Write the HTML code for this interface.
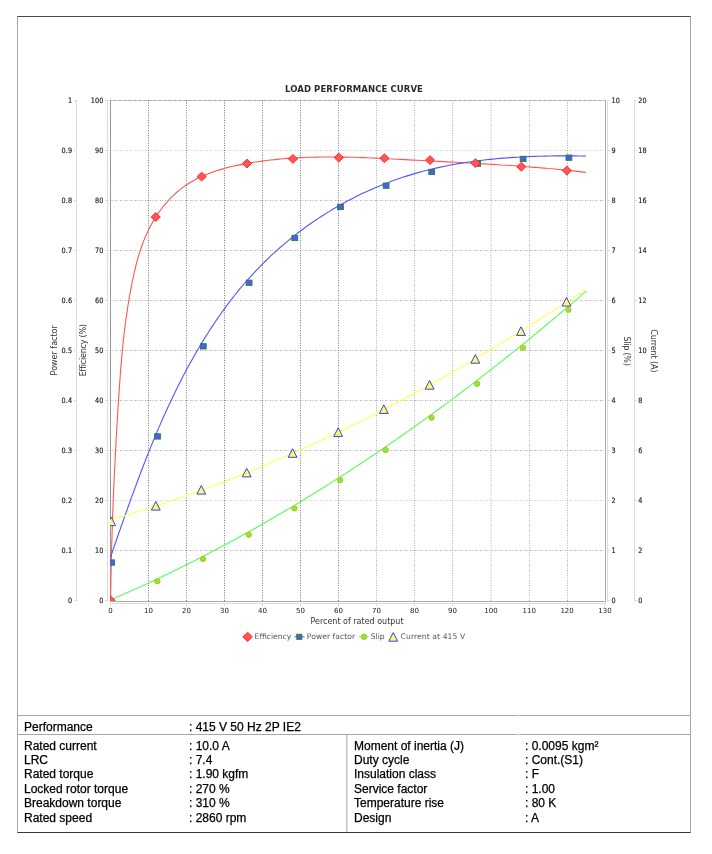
<!DOCTYPE html>
<html><head><meta charset="utf-8"><title>Load performance curve</title>
<style>
html,body{margin:0;padding:0;background:#fff;}
body{width:712px;height:854px;position:relative;overflow:hidden;}
.frame{position:absolute;left:17px;top:16px;width:672px;height:815px;border-top:1px solid #484848;border-bottom:1px solid #383838;border-left:1px solid #a8a8a8;border-right:1px solid #a8a8a8;}
.hl{position:absolute;left:18px;width:672px;height:1px;background:#a8a8a8;}
.vl{position:absolute;left:346px;top:735px;width:1px;height:97px;background:#c2c2c2;}
.t{position:absolute;font-family:"Liberation Sans",sans-serif;font-size:12px;line-height:14px;color:#000;white-space:nowrap;-webkit-text-stroke:0.25px #000;}
svg{position:absolute;left:0;top:0;}
.hg{stroke:#d4d4d4;stroke-width:1;stroke-dasharray:2 3;stroke-dashoffset:-1.5;}
.hg2{stroke:#aaaaaa;stroke-width:1;stroke-dasharray:1 4;}
.vg{stroke:#7e7e7e;stroke-width:1;stroke-dasharray:1.1 1.4;}
.vgl{stroke:#b0b0b0;stroke-width:1;stroke-dasharray:1.1 1.4;}
.tl text{font-family:"DejaVu Sans",sans-serif;font-size:7.4px;fill:#1a1a1a;stroke:#1a1a1a;stroke-width:0.15px;}
.xl text{font-family:"DejaVu Sans",sans-serif;font-size:7px;fill:#1a1a1a;}
.title{font-family:"DejaVu Sans",sans-serif;font-size:8.5px;font-weight:bold;fill:#2a2a2a;}
.al{font-family:"DejaVu Sans",sans-serif;font-size:8px;fill:#333;}
.lg{font-family:"DejaVu Sans",sans-serif;font-size:7.6px;fill:#555;}
</style></head><body>
<div class="frame"></div>
<div class="hl" style="top:715px"></div>
<div class="hl" style="top:734px"></div>
<div style="position:absolute;left:518px;top:715px;width:1px;height:1px;background:#fff"></div>
<div style="position:absolute;left:518px;top:734px;width:1px;height:1px;background:#fff"></div>
<div class="vl"></div><div class="vl" style="left:347px;background:#e2e2e2"></div>
<svg width="712" height="854" viewBox="0 0 712 854">
<defs><clipPath id="pc"><rect x="110" y="100" width="495.5" height="501"/></clipPath></defs>
<rect x="110.5" y="100.5" width="495" height="501" fill="none" stroke="#ababab" stroke-width="1"/>
<line x1="110" y1="100.5" x2="605" y2="100.5" class="hg"/>
<line x1="110" y1="100.5" x2="605" y2="100.5" class="hg2"/>
<line x1="110" y1="150.5" x2="605" y2="150.5" class="hg" style="opacity:.55"/>
<line x1="110" y1="150.5" x2="605" y2="150.5" class="hg2" style="opacity:.55"/>
<line x1="110" y1="200.5" x2="605" y2="200.5" class="hg"/>
<line x1="110" y1="200.5" x2="605" y2="200.5" class="hg2"/>
<line x1="110" y1="250.5" x2="605" y2="250.5" class="hg"/>
<line x1="110" y1="250.5" x2="605" y2="250.5" class="hg2"/>
<line x1="110" y1="300.5" x2="605" y2="300.5" class="hg"/>
<line x1="110" y1="300.5" x2="605" y2="300.5" class="hg2"/>
<line x1="110" y1="350.5" x2="605" y2="350.5" class="hg"/>
<line x1="110" y1="350.5" x2="605" y2="350.5" class="hg2"/>
<line x1="110" y1="400.5" x2="605" y2="400.5" class="hg"/>
<line x1="110" y1="400.5" x2="605" y2="400.5" class="hg2"/>
<line x1="110" y1="450.5" x2="605" y2="450.5" class="hg"/>
<line x1="110" y1="450.5" x2="605" y2="450.5" class="hg2"/>
<line x1="110" y1="500.5" x2="605" y2="500.5" class="hg" style="opacity:.55"/>
<line x1="110" y1="500.5" x2="605" y2="500.5" class="hg2" style="opacity:.55"/>
<line x1="110" y1="550.5" x2="605" y2="550.5" class="hg"/>
<line x1="110" y1="550.5" x2="605" y2="550.5" class="hg2"/>
<line x1="110.5" y1="100" x2="110.5" y2="601" class="vg"/>
<line x1="148.5" y1="100" x2="148.5" y2="601" class="vg"/>
<line x1="186.5" y1="100" x2="186.5" y2="601" class="vg"/>
<line x1="224.5" y1="100" x2="224.5" y2="601" class="vg"/>
<line x1="262.5" y1="100" x2="262.5" y2="601" class="vg"/>
<line x1="300.5" y1="100" x2="300.5" y2="601" class="vg"/>
<line x1="338.5" y1="100" x2="338.5" y2="601" class="vg"/>
<line x1="376.5" y1="100" x2="376.5" y2="601" class="vgl"/>
<line x1="414.5" y1="100" x2="414.5" y2="601" class="vgl"/>
<line x1="452.5" y1="100" x2="452.5" y2="601" class="vgl"/>
<line x1="491" y1="100" x2="491" y2="601" class="vgl"/>
<line x1="529.5" y1="100" x2="529.5" y2="601" class="vgl"/>
<line x1="567.5" y1="100" x2="567.5" y2="601" class="vgl"/>
<g stroke="#dcdcdc" stroke-width="1" fill="none">
<line x1="76.5" y1="100" x2="76.5" y2="601.5"/>
<line x1="107.5" y1="100" x2="107.5" y2="601.5"/>
<line x1="607.5" y1="100" x2="607.5" y2="601.5"/>
<line x1="634.5" y1="100" x2="634.5" y2="601.5"/>
<line x1="110" y1="603.5" x2="606" y2="603.5"/>
<line x1="74" y1="100.5" x2="76" y2="100.5"/>
<line x1="105" y1="100.5" x2="107" y2="100.5"/>
<line x1="608" y1="100.5" x2="610" y2="100.5"/>
<line x1="635" y1="100.5" x2="637" y2="100.5"/>
<line x1="74" y1="150.5" x2="76" y2="150.5"/>
<line x1="105" y1="150.5" x2="107" y2="150.5"/>
<line x1="608" y1="150.5" x2="610" y2="150.5"/>
<line x1="635" y1="150.5" x2="637" y2="150.5"/>
<line x1="74" y1="200.5" x2="76" y2="200.5"/>
<line x1="105" y1="200.5" x2="107" y2="200.5"/>
<line x1="608" y1="200.5" x2="610" y2="200.5"/>
<line x1="635" y1="200.5" x2="637" y2="200.5"/>
<line x1="74" y1="250.5" x2="76" y2="250.5"/>
<line x1="105" y1="250.5" x2="107" y2="250.5"/>
<line x1="608" y1="250.5" x2="610" y2="250.5"/>
<line x1="635" y1="250.5" x2="637" y2="250.5"/>
<line x1="74" y1="300.5" x2="76" y2="300.5"/>
<line x1="105" y1="300.5" x2="107" y2="300.5"/>
<line x1="608" y1="300.5" x2="610" y2="300.5"/>
<line x1="635" y1="300.5" x2="637" y2="300.5"/>
<line x1="74" y1="350.5" x2="76" y2="350.5"/>
<line x1="105" y1="350.5" x2="107" y2="350.5"/>
<line x1="608" y1="350.5" x2="610" y2="350.5"/>
<line x1="635" y1="350.5" x2="637" y2="350.5"/>
<line x1="74" y1="400.5" x2="76" y2="400.5"/>
<line x1="105" y1="400.5" x2="107" y2="400.5"/>
<line x1="608" y1="400.5" x2="610" y2="400.5"/>
<line x1="635" y1="400.5" x2="637" y2="400.5"/>
<line x1="74" y1="450.5" x2="76" y2="450.5"/>
<line x1="105" y1="450.5" x2="107" y2="450.5"/>
<line x1="608" y1="450.5" x2="610" y2="450.5"/>
<line x1="635" y1="450.5" x2="637" y2="450.5"/>
<line x1="74" y1="500.5" x2="76" y2="500.5"/>
<line x1="105" y1="500.5" x2="107" y2="500.5"/>
<line x1="608" y1="500.5" x2="610" y2="500.5"/>
<line x1="635" y1="500.5" x2="637" y2="500.5"/>
<line x1="74" y1="550.5" x2="76" y2="550.5"/>
<line x1="105" y1="550.5" x2="107" y2="550.5"/>
<line x1="608" y1="550.5" x2="610" y2="550.5"/>
<line x1="635" y1="550.5" x2="637" y2="550.5"/>
<line x1="74" y1="600.5" x2="76" y2="600.5"/>
<line x1="105" y1="600.5" x2="107" y2="600.5"/>
<line x1="608" y1="600.5" x2="610" y2="600.5"/>
<line x1="635" y1="600.5" x2="637" y2="600.5"/>
<line x1="110.5" y1="604" x2="110.5" y2="606"/>
<line x1="148.5" y1="604" x2="148.5" y2="606"/>
<line x1="186.5" y1="604" x2="186.5" y2="606"/>
<line x1="224.5" y1="604" x2="224.5" y2="606"/>
<line x1="262.5" y1="604" x2="262.5" y2="606"/>
<line x1="300.5" y1="604" x2="300.5" y2="606"/>
<line x1="338.5" y1="604" x2="338.5" y2="606"/>
<line x1="376.5" y1="604" x2="376.5" y2="606"/>
<line x1="414.5" y1="604" x2="414.5" y2="606"/>
<line x1="452.5" y1="604" x2="452.5" y2="606"/>
<line x1="491" y1="604" x2="491" y2="606"/>
<line x1="529.5" y1="604" x2="529.5" y2="606"/>
<line x1="567.5" y1="604" x2="567.5" y2="606"/>
<line x1="605.5" y1="604" x2="605.5" y2="606"/>
</g>
<g class="tl">
<text transform="translate(72.4,603.1) scale(0.88,1)" text-anchor="end" letter-spacing="0.25">0</text>
<text transform="translate(103.3,603.1) scale(0.88,1)" text-anchor="end">0</text>
<text transform="translate(611.6,603.1) scale(0.88,1)">0</text>
<text transform="translate(638.3,603.1) scale(0.88,1)">0</text>
<text transform="translate(72.4,553.1) scale(0.88,1)" text-anchor="end" letter-spacing="0.25">0.1</text>
<text transform="translate(103.3,553.1) scale(0.88,1)" text-anchor="end">10</text>
<text transform="translate(611.6,553.1) scale(0.88,1)">1</text>
<text transform="translate(638.3,553.1) scale(0.88,1)">2</text>
<text transform="translate(72.4,503.1) scale(0.88,1)" text-anchor="end" letter-spacing="0.25">0.2</text>
<text transform="translate(103.3,503.1) scale(0.88,1)" text-anchor="end">20</text>
<text transform="translate(611.6,503.1) scale(0.88,1)">2</text>
<text transform="translate(638.3,503.1) scale(0.88,1)">4</text>
<text transform="translate(72.4,453.1) scale(0.88,1)" text-anchor="end" letter-spacing="0.25">0.3</text>
<text transform="translate(103.3,453.1) scale(0.88,1)" text-anchor="end">30</text>
<text transform="translate(611.6,453.1) scale(0.88,1)">3</text>
<text transform="translate(638.3,453.1) scale(0.88,1)">6</text>
<text transform="translate(72.4,403.1) scale(0.88,1)" text-anchor="end" letter-spacing="0.25">0.4</text>
<text transform="translate(103.3,403.1) scale(0.88,1)" text-anchor="end">40</text>
<text transform="translate(611.6,403.1) scale(0.88,1)">4</text>
<text transform="translate(638.3,403.1) scale(0.88,1)">8</text>
<text transform="translate(72.4,353.1) scale(0.88,1)" text-anchor="end" letter-spacing="0.25">0.5</text>
<text transform="translate(103.3,353.1) scale(0.88,1)" text-anchor="end">50</text>
<text transform="translate(611.6,353.1) scale(0.88,1)">5</text>
<text transform="translate(638.3,353.1) scale(0.88,1)">10</text>
<text transform="translate(72.4,303.1) scale(0.88,1)" text-anchor="end" letter-spacing="0.25">0.6</text>
<text transform="translate(103.3,303.1) scale(0.88,1)" text-anchor="end">60</text>
<text transform="translate(611.6,303.1) scale(0.88,1)">6</text>
<text transform="translate(638.3,303.1) scale(0.88,1)">12</text>
<text transform="translate(72.4,253.1) scale(0.88,1)" text-anchor="end" letter-spacing="0.25">0.7</text>
<text transform="translate(103.3,253.1) scale(0.88,1)" text-anchor="end">70</text>
<text transform="translate(611.6,253.1) scale(0.88,1)">7</text>
<text transform="translate(638.3,253.1) scale(0.88,1)">14</text>
<text transform="translate(72.4,203.1) scale(0.88,1)" text-anchor="end" letter-spacing="0.25">0.8</text>
<text transform="translate(103.3,203.1) scale(0.88,1)" text-anchor="end">80</text>
<text transform="translate(611.6,203.1) scale(0.88,1)">8</text>
<text transform="translate(638.3,203.1) scale(0.88,1)">16</text>
<text transform="translate(72.4,153.1) scale(0.88,1)" text-anchor="end" letter-spacing="0.25">0.9</text>
<text transform="translate(103.3,153.1) scale(0.88,1)" text-anchor="end">90</text>
<text transform="translate(611.6,153.1) scale(0.88,1)">9</text>
<text transform="translate(638.3,153.1) scale(0.88,1)">18</text>
<text transform="translate(72.4,103.1) scale(0.88,1)" text-anchor="end" letter-spacing="0.25">1</text>
<text transform="translate(103.3,103.1) scale(0.88,1)" text-anchor="end">100</text>
<text transform="translate(611.6,103.1) scale(0.88,1)">10</text>
<text transform="translate(638.3,103.1) scale(0.88,1)">20</text>
</g><g class="xl">
<text x="110.5" y="613.2" text-anchor="middle">0</text>
<text x="148.5" y="613.2" text-anchor="middle">10</text>
<text x="186.5" y="613.2" text-anchor="middle">20</text>
<text x="224.5" y="613.2" text-anchor="middle">30</text>
<text x="262.5" y="613.2" text-anchor="middle">40</text>
<text x="300.5" y="613.2" text-anchor="middle">50</text>
<text x="338.5" y="613.2" text-anchor="middle">60</text>
<text x="376.5" y="613.2" text-anchor="middle">70</text>
<text x="414.5" y="613.2" text-anchor="middle">80</text>
<text x="452.5" y="613.2" text-anchor="middle">90</text>
<text x="491" y="613.2" text-anchor="middle">100</text>
<text x="529.2" y="613.2" text-anchor="middle">110</text>
<text x="567.1" y="613.2" text-anchor="middle">120</text>
<text x="605" y="613.2" text-anchor="middle">130</text>
</g>
<g fill="none" stroke-width="1.1" clip-path="url(#pc)">
<path d="M110.6,600.5 L110.7,596.3 L110.7,592.1 L110.8,587.9 L110.9,583.7 L110.9,579.5 L111.0,575.3 L111.1,571.1 L111.2,566.8 L111.3,562.6 L111.4,558.4 L111.5,554.2 L111.6,550.0 L111.7,545.8 L111.8,541.6 L112.0,537.4 L112.1,533.1 L112.2,528.9 L112.4,524.7 L112.5,520.5 L112.6,516.3 L112.8,512.1 L113.0,507.9 L113.1,503.6 L113.3,499.4 L113.5,495.2 L113.6,491.0 L113.8,486.8 L114.0,482.6 L114.2,478.3 L114.4,474.1 L114.6,469.9 L114.8,465.7 L115.0,461.5 L115.2,457.3 L115.4,453.1 L115.7,448.9 L115.9,444.7 L116.1,440.5 L116.3,436.2 L116.6,432.0 L116.8,427.8 L117.1,423.6 L117.3,419.4 L117.6,415.2 L117.8,411.0 L118.1,406.8 L118.4,402.6 L118.6,398.4 L118.9,394.2 L119.2,390.1 L119.5,385.9 L119.8,381.7 L120.1,377.5 L120.4,373.3 L120.7,369.1 L121.1,364.9 L121.4,360.8 L121.8,356.6 L122.2,352.4 L122.6,348.2 L123.0,344.0 L123.4,339.9 L123.9,335.7 L124.4,331.5 L124.9,327.3 L125.4,323.2 L126.0,319.0 L126.6,314.8 L127.2,310.6 L127.8,306.5 L128.5,302.3 L129.2,298.1 L129.9,294.0 L130.7,289.8 L131.5,285.6 L132.3,281.5 L133.2,277.3 L134.1,273.1 L135.1,269.0 L136.1,264.9 L137.2,260.7 L138.4,256.6 L139.6,252.6 L140.9,248.5 L142.3,244.5 L143.8,240.6 L145.4,236.7 L147.2,232.8 L149.0,229.0 L150.9,225.2 L153.0,221.6 L155.1,218.0 L157.4,214.4 L159.8,211.0 L162.3,207.7 L165.0,204.4 L167.7,201.3 L170.5,198.2 L173.5,195.3 L176.5,192.5 L179.7,189.9 L182.9,187.4 L186.3,185.0 L189.8,182.8 L193.3,180.7 L197.0,178.7 L200.7,176.9 L204.5,175.2 L208.4,173.7 L212.3,172.2 L216.3,170.8 L220.3,169.6 L224.4,168.4 L228.5,167.3 L232.7,166.3 L236.9,165.4 L241.0,164.6 L245.2,163.8 L249.4,163.0 L253.6,162.3 L257.9,161.7 L262.1,161.1 L266.3,160.5 L270.5,160.0 L274.7,159.6 L278.9,159.1 L283.1,158.8 L287.3,158.4 L291.5,158.1 L295.7,157.9 L299.9,157.6 L304.1,157.5 L308.3,157.3 L312.5,157.2 L316.7,157.1 L321.0,157.0 L325.2,157.0 L329.4,157.0 L333.6,157.0 L337.8,157.0 L342.0,157.1 L346.2,157.1 L350.4,157.2 L354.6,157.3 L358.8,157.5 L363.1,157.6 L367.3,157.8 L371.5,158.0 L375.7,158.1 L379.9,158.3 L384.1,158.5 L388.3,158.8 L392.5,159.0 L396.7,159.2 L400.9,159.4 L405.2,159.6 L409.4,159.9 L413.6,160.1 L417.8,160.3 L422.0,160.5 L426.2,160.8 L430.4,161.0 L434.6,161.2 L438.8,161.4 L443.0,161.6 L447.2,161.9 L451.4,162.1 L455.6,162.3 L459.8,162.5 L464.0,162.8 L468.2,163.0 L472.4,163.2 L476.6,163.4 L480.8,163.7 L485.0,163.9 L489.2,164.2 L493.4,164.4 L497.6,164.7 L501.8,165.0 L506.0,165.2 L510.2,165.5 L514.4,165.8 L518.6,166.1 L522.8,166.4 L527.0,166.7 L531.2,167.1 L535.4,167.4 L539.6,167.7 L543.8,168.1 L548.0,168.5 L552.2,168.8 L556.4,169.2 L560.6,169.6 L564.8,170.1 L569.0,170.5 L573.2,170.9 L577.4,171.4 L581.6,171.9 L585.8,172.4" stroke="#ff5555"/>
<path d="M110.4,557.5 L111.5,554.4 L112.6,551.3 L113.6,548.1 L114.7,545.0 L115.8,541.8 L116.9,538.7 L118.0,535.5 L119.1,532.3 L120.2,529.2 L121.3,526.0 L122.5,522.8 L123.6,519.6 L124.7,516.4 L125.8,513.2 L127.0,510.0 L128.1,506.8 L129.3,503.6 L130.4,500.3 L131.6,497.1 L132.8,493.9 L134.0,490.7 L135.2,487.4 L136.4,484.2 L137.6,481.0 L138.8,477.7 L140.0,474.5 L141.2,471.3 L142.5,468.0 L143.7,464.8 L145.0,461.6 L146.2,458.3 L147.5,455.1 L148.8,451.9 L150.1,448.6 L151.4,445.4 L152.7,442.2 L154.1,439.0 L155.4,435.8 L156.8,432.6 L158.1,429.4 L159.5,426.1 L160.9,422.9 L162.3,419.8 L163.7,416.6 L165.1,413.4 L166.6,410.2 L168.0,407.0 L169.5,403.9 L171.0,400.7 L172.5,397.6 L174.0,394.4 L175.5,391.3 L177.0,388.2 L178.6,385.1 L180.2,381.9 L181.7,378.9 L183.3,375.8 L184.9,372.7 L186.6,369.6 L188.2,366.6 L189.9,363.5 L191.6,360.5 L193.3,357.5 L195.0,354.4 L196.7,351.4 L198.5,348.5 L200.2,345.5 L202.0,342.5 L203.8,339.6 L205.6,336.6 L207.5,333.7 L209.3,330.8 L211.2,327.9 L213.1,325.1 L215.0,322.2 L216.9,319.4 L218.9,316.5 L220.9,313.7 L222.9,310.9 L224.9,308.1 L226.9,305.4 L229.0,302.6 L231.1,299.9 L233.2,297.2 L235.3,294.5 L237.4,291.9 L239.6,289.2 L241.8,286.6 L244.0,284.0 L246.3,281.4 L248.5,278.8 L250.8,276.3 L253.1,273.8 L255.4,271.3 L257.8,268.8 L260.2,266.3 L262.6,263.9 L265.0,261.5 L267.5,259.1 L269.9,256.7 L272.4,254.4 L275.0,252.1 L277.5,249.8 L280.1,247.5 L282.7,245.3 L285.3,243.1 L287.9,240.9 L290.6,238.7 L293.2,236.6 L295.9,234.4 L298.7,232.3 L301.4,230.3 L304.2,228.2 L306.9,226.2 L309.7,224.2 L312.6,222.3 L315.4,220.3 L318.3,218.4 L321.1,216.5 L324.0,214.7 L326.9,212.9 L329.9,211.1 L332.8,209.3 L335.8,207.5 L338.8,205.8 L341.8,204.1 L344.8,202.5 L347.8,200.8 L350.9,199.2 L353.9,197.7 L357.0,196.1 L360.1,194.6 L363.2,193.1 L366.3,191.7 L369.5,190.3 L372.6,188.9 L375.8,187.5 L379.0,186.2 L382.2,184.9 L385.4,183.6 L388.6,182.4 L391.8,181.1 L395.0,180.0 L398.3,178.8 L401.6,177.7 L404.8,176.6 L408.1,175.6 L411.4,174.6 L414.7,173.6 L418.1,172.6 L421.4,171.7 L424.7,170.8 L428.1,170.0 L431.4,169.2 L434.8,168.4 L438.2,167.6 L441.6,166.9 L444.9,166.2 L448.3,165.5 L451.7,164.8 L455.2,164.2 L458.6,163.6 L462.0,163.1 L465.4,162.5 L468.8,162.0 L472.3,161.5 L475.7,161.0 L479.2,160.6 L482.6,160.2 L486.0,159.8 L489.5,159.4 L493.0,159.1 L496.4,158.7 L499.9,158.4 L503.3,158.1 L506.8,157.9 L510.2,157.6 L513.7,157.4 L517.2,157.2 L520.6,157.0 L524.1,156.8 L527.5,156.6 L531.0,156.5 L534.4,156.4 L537.9,156.3 L541.3,156.2 L544.8,156.1 L548.2,156.0 L551.6,156.0 L555.1,155.9 L558.5,155.9 L561.9,155.9 L565.3,155.9 L568.7,155.9 L572.1,155.9 L575.5,155.9 L578.9,156.0 L582.3,156.0 L585.7,156.1" stroke="#5555ff"/>
<path d="M110.5,600.0 L113.1,598.9 L115.7,597.7 L118.3,596.6 L121.0,595.4 L123.6,594.3 L126.2,593.1 L128.8,592.0 L131.4,590.8 L134.1,589.6 L136.7,588.4 L139.3,587.2 L141.9,586.1 L144.5,584.9 L147.1,583.7 L149.7,582.5 L152.3,581.2 L154.9,580.0 L157.5,578.8 L160.0,577.6 L162.6,576.4 L165.2,575.1 L167.8,573.9 L170.4,572.6 L172.9,571.4 L175.5,570.1 L178.1,568.9 L180.6,567.6 L183.2,566.3 L185.8,565.1 L188.3,563.8 L190.9,562.5 L193.4,561.2 L196.0,559.9 L198.5,558.6 L201.1,557.3 L203.6,556.0 L206.2,554.7 L208.7,553.4 L211.2,552.0 L213.8,550.7 L216.3,549.4 L218.8,548.1 L221.4,546.7 L223.9,545.4 L226.4,544.0 L228.9,542.7 L231.4,541.3 L234.0,539.9 L236.5,538.6 L239.0,537.2 L241.5,535.8 L244.0,534.4 L246.5,533.1 L249.0,531.7 L251.5,530.3 L254.0,528.9 L256.5,527.5 L259.0,526.1 L261.4,524.6 L263.9,523.2 L266.4,521.8 L268.9,520.4 L271.4,519.0 L273.8,517.5 L276.3,516.1 L278.8,514.6 L281.3,513.2 L283.7,511.7 L286.2,510.3 L288.6,508.8 L291.1,507.4 L293.6,505.9 L296.0,504.4 L298.5,503.0 L300.9,501.5 L303.4,500.0 L305.8,498.5 L308.2,497.0 L310.7,495.5 L313.1,494.0 L315.5,492.5 L318.0,491.0 L320.4,489.5 L322.8,488.0 L325.3,486.5 L327.7,484.9 L330.1,483.4 L332.5,481.9 L334.9,480.3 L337.3,478.8 L339.7,477.3 L342.1,475.7 L344.6,474.2 L347.0,472.6 L349.4,471.0 L351.8,469.5 L354.1,467.9 L356.5,466.3 L358.9,464.8 L361.3,463.2 L363.7,461.6 L366.1,460.0 L368.5,458.4 L370.8,456.8 L373.2,455.2 L375.6,453.6 L378.0,452.0 L380.3,450.4 L382.7,448.8 L385.1,447.2 L387.4,445.6 L389.8,444.0 L392.1,442.4 L394.5,440.7 L396.8,439.1 L399.2,437.5 L401.5,435.8 L403.9,434.2 L406.2,432.5 L408.6,430.9 L410.9,429.2 L413.2,427.6 L415.6,425.9 L417.9,424.3 L420.2,422.6 L422.6,420.9 L424.9,419.3 L427.2,417.6 L429.5,415.9 L431.8,414.2 L434.2,412.5 L436.5,410.8 L438.8,409.2 L441.1,407.5 L443.4,405.8 L445.7,404.1 L448.0,402.4 L450.3,400.6 L452.6,398.9 L454.9,397.2 L457.2,395.5 L459.5,393.8 L461.7,392.1 L464.0,390.3 L466.3,388.6 L468.6,386.9 L470.9,385.1 L473.1,383.4 L475.4,381.7 L477.7,379.9 L480.0,378.2 L482.2,376.4 L484.5,374.7 L486.7,372.9 L489.0,371.2 L491.3,369.4 L493.5,367.6 L495.8,365.9 L498.0,364.1 L500.3,362.3 L502.5,360.6 L504.8,358.8 L507.0,357.0 L509.2,355.2 L511.5,353.4 L513.7,351.6 L515.9,349.8 L518.2,348.1 L520.4,346.3 L522.6,344.5 L524.8,342.7 L527.1,340.8 L529.3,339.0 L531.5,337.2 L533.7,335.4 L535.9,333.6 L538.1,331.8 L540.3,330.0 L542.5,328.1 L544.7,326.3 L546.9,324.5 L549.1,322.7 L551.3,320.8 L553.5,319.0 L555.7,317.2 L557.9,315.3 L560.1,313.5 L562.3,311.6 L564.4,309.8 L566.6,307.9 L568.8,306.1 L571.0,304.2 L573.2,302.4 L575.3,300.5 L577.5,298.7 L579.7,296.8 L581.8,294.9 L584.0,293.1 L586.1,291.2" stroke="#55ff55"/>
<path d="M110.5,519.9 L113.0,519.2 L115.6,518.4 L118.2,517.7 L120.7,516.9 L123.3,516.2 L125.9,515.4 L128.4,514.6 L131.0,513.9 L133.5,513.1 L136.1,512.3 L138.6,511.5 L141.2,510.7 L143.7,509.9 L146.3,509.1 L148.8,508.3 L151.4,507.5 L153.9,506.7 L156.4,505.8 L159.0,505.0 L161.5,504.2 L164.1,503.3 L166.6,502.5 L169.1,501.6 L171.6,500.8 L174.2,499.9 L176.7,499.1 L179.2,498.2 L181.7,497.3 L184.2,496.4 L186.8,495.5 L189.3,494.7 L191.8,493.8 L194.3,492.9 L196.8,492.0 L199.3,491.1 L201.8,490.1 L204.3,489.2 L206.8,488.3 L209.3,487.4 L211.8,486.4 L214.3,485.5 L216.8,484.6 L219.3,483.6 L221.8,482.7 L224.3,481.7 L226.8,480.7 L229.3,479.8 L231.7,478.8 L234.2,477.8 L236.7,476.9 L239.2,475.9 L241.6,474.9 L244.1,473.9 L246.6,472.9 L249.1,471.9 L251.5,470.9 L254.0,469.9 L256.5,468.9 L258.9,467.8 L261.4,466.8 L263.8,465.8 L266.3,464.8 L268.7,463.7 L271.2,462.7 L273.7,461.6 L276.1,460.6 L278.5,459.5 L281.0,458.5 L283.4,457.4 L285.9,456.3 L288.3,455.3 L290.8,454.2 L293.2,453.1 L295.6,452.0 L298.1,450.9 L300.5,449.9 L302.9,448.8 L305.4,447.7 L307.8,446.6 L310.2,445.4 L312.6,444.3 L315.0,443.2 L317.5,442.1 L319.9,441.0 L322.3,439.8 L324.7,438.7 L327.1,437.6 L329.5,436.4 L331.9,435.3 L334.3,434.1 L336.7,433.0 L339.1,431.8 L341.5,430.7 L343.9,429.5 L346.3,428.4 L348.7,427.2 L351.1,426.0 L353.5,424.8 L355.9,423.6 L358.3,422.5 L360.7,421.3 L363.1,420.1 L365.4,418.9 L367.8,417.7 L370.2,416.5 L372.6,415.3 L375.0,414.1 L377.3,412.8 L379.7,411.6 L382.1,410.4 L384.4,409.2 L386.8,407.9 L389.2,406.7 L391.5,405.5 L393.9,404.2 L396.2,403.0 L398.6,401.7 L401.0,400.5 L403.3,399.2 L405.7,398.0 L408.0,396.7 L410.4,395.5 L412.7,394.2 L415.1,392.9 L417.4,391.6 L419.7,390.4 L422.1,389.1 L424.4,387.8 L426.8,386.5 L429.1,385.2 L431.4,383.9 L433.7,382.6 L436.1,381.3 L438.4,380.0 L440.7,378.7 L443.1,377.4 L445.4,376.1 L447.7,374.8 L450.0,373.5 L452.3,372.1 L454.6,370.8 L457.0,369.5 L459.3,368.2 L461.6,366.8 L463.9,365.5 L466.2,364.2 L468.5,362.8 L470.8,361.5 L473.1,360.1 L475.4,358.8 L477.7,357.4 L480.0,356.0 L482.3,354.7 L484.6,353.3 L486.9,352.0 L489.2,350.6 L491.4,349.2 L493.7,347.8 L496.0,346.5 L498.3,345.1 L500.6,343.7 L502.8,342.3 L505.1,340.9 L507.4,339.5 L509.7,338.1 L511.9,336.7 L514.2,335.3 L516.5,333.9 L518.7,332.5 L521.0,331.1 L523.3,329.7 L525.5,328.3 L527.8,326.9 L530.0,325.5 L532.3,324.1 L534.6,322.6 L536.8,321.2 L539.1,319.8 L541.3,318.3 L543.6,316.9 L545.8,315.5 L548.0,314.0 L550.3,312.6 L552.5,311.2 L554.8,309.7 L557.0,308.3 L559.2,306.8 L561.5,305.4 L563.7,303.9 L565.9,302.5 L568.2,301.0 L570.4,299.5 L572.6,298.1 L574.8,296.6 L577.1,295.1 L579.3,293.7 L581.5,292.2 L583.7,290.7 L585.9,289.3" stroke="#ffff55"/>
</g>
<g clip-path="url(#pc)">
<circle cx="110.5" cy="600.5" r="2.7" fill="#55ff55" stroke="#ffa200" stroke-width="1"/>
<circle cx="157.4" cy="581.2" r="2.7" fill="#55ff55" stroke="#ffa200" stroke-width="1"/>
<circle cx="203" cy="559" r="2.7" fill="#55ff55" stroke="#ffa200" stroke-width="1"/>
<circle cx="248.7" cy="534.7" r="2.7" fill="#55ff55" stroke="#ffa200" stroke-width="1"/>
<circle cx="294.4" cy="508.4" r="2.7" fill="#55ff55" stroke="#ffa200" stroke-width="1"/>
<circle cx="340.1" cy="480.1" r="2.7" fill="#55ff55" stroke="#ffa200" stroke-width="1"/>
<circle cx="385.7" cy="450" r="2.7" fill="#55ff55" stroke="#ffa200" stroke-width="1"/>
<circle cx="431.5" cy="417.7" r="2.7" fill="#55ff55" stroke="#ffa200" stroke-width="1"/>
<circle cx="477.1" cy="383.8" r="2.7" fill="#55ff55" stroke="#ffa200" stroke-width="1"/>
<circle cx="522.9" cy="347.7" r="2.7" fill="#55ff55" stroke="#ffa200" stroke-width="1"/>
<circle cx="568.4" cy="309.8" r="2.7" fill="#55ff55" stroke="#ffa200" stroke-width="1"/>
<path d="M111.2,517.1 L115.6,525.7 L106.8,525.7 Z" fill="#ffff55" stroke="#3a3aff" stroke-width="1"/>
<path d="M155.8,501.5 L160.2,510.1 L151.4,510.1 Z" fill="#ffff55" stroke="#3a3aff" stroke-width="1"/>
<path d="M201.3,485.5 L205.7,494.1 L196.9,494.1 Z" fill="#ffff55" stroke="#3a3aff" stroke-width="1"/>
<path d="M246.7,468.3 L251.1,476.9 L242.3,476.9 Z" fill="#ffff55" stroke="#3a3aff" stroke-width="1"/>
<path d="M292.6,448.7 L297.0,457.3 L288.2,457.3 Z" fill="#ffff55" stroke="#3a3aff" stroke-width="1"/>
<path d="M338.2,427.8 L342.6,436.4 L333.8,436.4 Z" fill="#ffff55" stroke="#3a3aff" stroke-width="1"/>
<path d="M383.8,404.8 L388.2,413.4 L379.4,413.4 Z" fill="#ffff55" stroke="#3a3aff" stroke-width="1"/>
<path d="M429.6,380.6 L434.0,389.2 L425.2,389.2 Z" fill="#ffff55" stroke="#3a3aff" stroke-width="1"/>
<path d="M475.3,354.6 L479.7,363.2 L470.9,363.2 Z" fill="#ffff55" stroke="#3a3aff" stroke-width="1"/>
<path d="M521.0,326.8 L525.4,335.4 L516.6,335.4 Z" fill="#ffff55" stroke="#3a3aff" stroke-width="1"/>
<path d="M566.5,297.5 L570.9,306.1 L562.1,306.1 Z" fill="#ffff55" stroke="#3a3aff" stroke-width="1"/>
<rect x="108.8" y="559.9" width="5.8" height="5.3" fill="#5555ff" stroke="#1a8a1a" stroke-width="0.9"/>
<rect x="154.6" y="433.8" width="5.8" height="5.3" fill="#5555ff" stroke="#1a8a1a" stroke-width="0.9"/>
<rect x="200.4" y="343.7" width="5.8" height="5.3" fill="#5555ff" stroke="#1a8a1a" stroke-width="0.9"/>
<rect x="246.2" y="280.1" width="5.8" height="5.3" fill="#5555ff" stroke="#1a8a1a" stroke-width="0.9"/>
<rect x="291.9" y="235.3" width="5.8" height="5.3" fill="#5555ff" stroke="#1a8a1a" stroke-width="0.9"/>
<rect x="337.6" y="204.3" width="5.8" height="5.3" fill="#5555ff" stroke="#1a8a1a" stroke-width="0.9"/>
<rect x="383.2" y="183.0" width="5.8" height="5.3" fill="#5555ff" stroke="#1a8a1a" stroke-width="0.9"/>
<rect x="428.8" y="169.3" width="5.8" height="5.3" fill="#5555ff" stroke="#1a8a1a" stroke-width="0.9"/>
<rect x="474.8" y="161.0" width="5.8" height="5.3" fill="#5555ff" stroke="#1a8a1a" stroke-width="0.9"/>
<rect x="520.2" y="156.3" width="5.8" height="5.3" fill="#5555ff" stroke="#1a8a1a" stroke-width="0.9"/>
<rect x="566.0" y="155.0" width="5.8" height="5.3" fill="#5555ff" stroke="#1a8a1a" stroke-width="0.9"/>
<path d="M110.65,596.1 L115.25,600.5 L110.65,604.9 L106.05,600.5 Z" fill="#ff5555" stroke="#ff2a2a" stroke-width="1"/>
<path d="M155.75,212.6 L160.35,217 L155.75,221.4 L151.15,217 Z" fill="#ff5555" stroke="#ff2a2a" stroke-width="1"/>
<path d="M201.65,172.2 L206.25,176.6 L201.65,181.0 L197.05,176.6 Z" fill="#ff5555" stroke="#ff2a2a" stroke-width="1"/>
<path d="M246.95000000000002,159.2 L251.55,163.6 L246.95000000000002,168.0 L242.35000000000002,163.6 Z" fill="#ff5555" stroke="#ff2a2a" stroke-width="1"/>
<path d="M292.95,154.5 L297.55,158.9 L292.95,163.3 L288.35,158.9 Z" fill="#ff5555" stroke="#ff2a2a" stroke-width="1"/>
<path d="M338.75,153.2 L343.35,157.6 L338.75,162.0 L334.15000000000003,157.6 Z" fill="#ff5555" stroke="#ff2a2a" stroke-width="1"/>
<path d="M384.45,153.9 L389.05,158.3 L384.45,162.70000000000002 L379.85,158.3 Z" fill="#ff5555" stroke="#ff2a2a" stroke-width="1"/>
<path d="M430.04999999999995,155.7 L434.65,160.1 L430.04999999999995,164.5 L425.45,160.1 Z" fill="#ff5555" stroke="#ff2a2a" stroke-width="1"/>
<path d="M475.45,158.79999999999998 L480.05,163.2 L475.45,167.6 L470.85,163.2 Z" fill="#ff5555" stroke="#ff2a2a" stroke-width="1"/>
<path d="M521.35,162.29999999999998 L525.95,166.7 L521.35,171.1 L516.75,166.7 Z" fill="#ff5555" stroke="#ff2a2a" stroke-width="1"/>
<path d="M566.85,166.2 L571.45,170.6 L566.85,175.0 L562.25,170.6 Z" fill="#ff5555" stroke="#ff2a2a" stroke-width="1"/>
</g>
<text x="354" y="91.8" text-anchor="middle" class="title" letter-spacing="0.09">LOAD PERFORMANCE CURVE</text>
<text x="357" y="623.5" text-anchor="middle" class="al">Percent of rated output</text>
<text transform="translate(57.4,350.3) rotate(-90)" text-anchor="middle" class="al">Power factor</text>
<text transform="translate(85.6,350.3) rotate(-90)" text-anchor="middle" class="al" letter-spacing="-0.22">Efficiency (%)</text>
<text transform="translate(623.8,351) rotate(90)" text-anchor="middle" class="al" letter-spacing="-0.22">Slip (%)</text>
<text transform="translate(651,350.8) rotate(90)" text-anchor="middle" class="al" letter-spacing="-0.12">Current (A)</text>
<path d="M247.6,632.3 L252.4,636.8 L247.6,641.4 L242.8,636.8 Z" fill="#ff5555" stroke="#ff2a2a" stroke-width="1"/>
<text x="254.6" y="639.4" class="lg">Efficiency</text>
<line x1="294.5" y1="636.8" x2="304.5" y2="636.8" stroke="#5555ff" stroke-width="1"/>
<rect x="296.8" y="634.3" width="5" height="5" fill="#5555ff" stroke="#1a8a1a" stroke-width="1"/>
<text x="306.8" y="639.4" class="lg" letter-spacing="0.07">Power factor</text>
<line x1="359" y1="636.8" x2="368.5" y2="636.8" stroke="#55ff55" stroke-width="1"/>
<circle cx="364" cy="636.8" r="2.7" fill="#55ff55" stroke="#ffa200" stroke-width="1"/>
<text x="370.8" y="639.4" class="lg">Slip</text>
<path d="M393.2,632.6 L397.6,641.2 L388.8,641.2 Z" fill="#ffff55" stroke="#3a3aff" stroke-width="1"/>
<text x="400.6" y="639.4" class="lg" letter-spacing="0.1">Current at 415 V</text>
</svg>
<div class="t" style="left:24px;top:719.8px">Performance</div>
<div class="t" style="left:189px;top:719.8px">: 415 V 50 Hz 2P IE2</div>
<div class="t" style="left:24px;top:738.8px">Rated current</div>
<div class="t" style="left:189px;top:738.8px">: 10.0 A</div>
<div class="t" style="left:354px;top:738.8px">Moment of inertia (J)</div>
<div class="t" style="left:525px;top:738.8px">: 0.0095 kgm²</div>
<div class="t" style="left:24px;top:752.5px">LRC</div>
<div class="t" style="left:189px;top:752.5px">: 7.4</div>
<div class="t" style="left:354px;top:752.5px">Duty cycle</div>
<div class="t" style="left:525px;top:752.5px">: Cont.(S1)</div>
<div class="t" style="left:24px;top:766.8px">Rated torque</div>
<div class="t" style="left:189px;top:766.8px">: 1.90 kgfm</div>
<div class="t" style="left:354px;top:766.8px">Insulation class</div>
<div class="t" style="left:525px;top:766.8px">: F</div>
<div class="t" style="left:24px;top:781.8px">Locked rotor torque</div>
<div class="t" style="left:189px;top:781.8px">: 270 %</div>
<div class="t" style="left:354px;top:781.8px">Service factor</div>
<div class="t" style="left:525px;top:781.8px">: 1.00</div>
<div class="t" style="left:24px;top:795.9px">Breakdown torque</div>
<div class="t" style="left:189px;top:795.9px">: 310 %</div>
<div class="t" style="left:354px;top:795.9px">Temperature rise</div>
<div class="t" style="left:525px;top:795.9px">: 80 K</div>
<div class="t" style="left:24px;top:810.9px">Rated speed</div>
<div class="t" style="left:189px;top:810.9px">: 2860 rpm</div>
<div class="t" style="left:354px;top:810.9px">Design</div>
<div class="t" style="left:525px;top:810.9px">: A</div>
</body></html>
